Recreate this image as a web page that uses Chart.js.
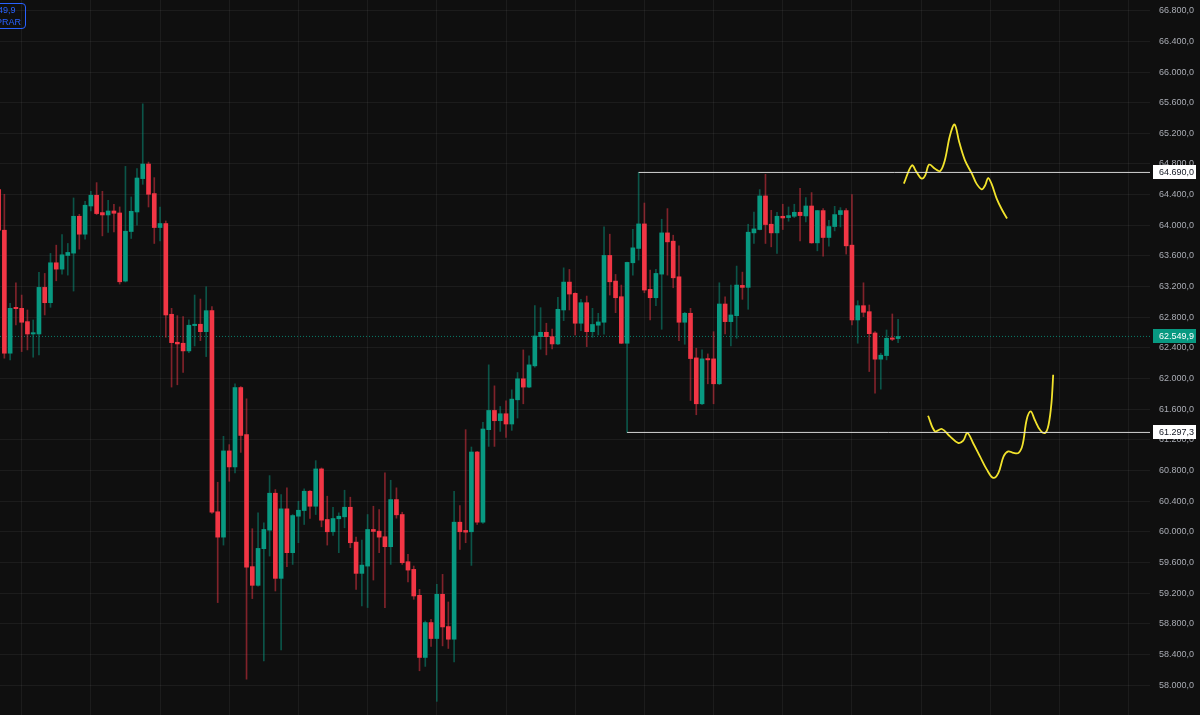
<!DOCTYPE html>
<html>
<head>
<meta charset="utf-8">
<script src="https://cdn.jsdelivr.net/npm/chart.js@4"></script>
<style>
  body { margin: 0; background: #0f0f0f; overflow: hidden; }
  #wrap { position: relative; width: 1200px; height: 715px; }
  #buy {
    position: absolute; left: -30px; top: 3px; width: 54px; height: 24px;
    border: 1px solid #2962ff; border-radius: 4px; color: #2962ff;
    font: 9px "Liberation Sans", sans-serif; text-align: center; line-height: 12px;
  }
</style>
</head>
<body>
<div id="wrap">
  <canvas id="chart" width="1200" height="715"></canvas>
  <div id="buy">62.549,9<br>COMPRAR</div>
</div>
<script>
// candles (one per bar, left to right)
const opens = [64466,63936,62331,62930,62917,62743,62582,62582,63190,62990,63511,63428,63606,63637,64118,63884,64252,64392,64166,64135,
  64187,64161,63272,63919,64174,64609,64799,64414,63971,64023,62839,62474,62461,62361,62691,62709,62612,62886,60262,59931,
  61056,60847,61883,61268,59546,59302,59780,60022,60504,59393,60300,59728,60204,60278,60530,60334,60821,60161,60001,60170,
  60196,60321,59866,59458,59553,60031,60009,59936,59806,60421,60226,59610,59510,59172,58361,58816,58608,59185,58764,58599,
  60126,60018,60001,61042,60126,61333,61584,61450,61541,61407,61723,61997,61889,62166,62547,62604,62547,62452,62895,63259,
  63112,62722,62990,62612,62696,62735,63607,63272,63068,62461,63511,63698,64018,63164,63055,63363,63901,63793,63328,62735,
  62852,62270,61671,62261,62257,61932,62973,62743,62821,63216,63190,63901,63945,64383,64014,63901,64118,64101,64118,64170,
  64122,64252,63771,64192,63841,63984,64140,64192,63741,62765,62951,62873,62595,62253,62300,62530,62522];
const highs = [64522,64405,62982,63250,63090,62895,62765,63385,63372,63633,63741,63880,63763,64357,64144,64314,64444,64557,64444,64327,
  64275,64240,64769,64370,64739,65585,64825,64622,64239,64057,62917,62821,62808,62765,63090,63038,63198,62938,60647,61246,
  61138,61932,61896,61736,60041,60248,60118,60734,60552,60487,60574,60226,60399,60561,60540,60929,60834,60465,60321,60248,
  60543,60452,59931,59892,60226,60334,60291,60769,60673,60574,60256,59706,59554,59250,58837,58859,59315,59445,59085,60530,
  60343,61333,61107,61050,61428,62179,61905,61636,61710,61853,62079,62374,62296,62951,62925,62722,62647,63060,63445,63424,
  63120,63034,63077,62917,62852,63979,63884,63359,63220,63520,63949,64690,64291,63415,63424,64079,64218,63871,63732,62865,
  62917,62396,62374,62322,62612,63250,63068,63220,63468,63389,64014,64174,64466,64665,64196,64170,64275,64239,64275,64483,
  64362,64427,64195,64218,64066,64248,64231,64218,64401,63016,63250,62960,62612,62331,62634,62843,62774];
const lows = [63910,62266,62244,62700,62352,62374,62279,62309,62830,62930,63276,63363,63350,63142,63689,63819,64187,64140,63862,63906,
  63914,63233,63260,63828,64001,64535,64239,63763,63797,62539,61889,61919,62079,62339,62426,62495,62287,60239,59077,59827,
  60660,60769,61037,58078,59129,59290,58317,59684,59228,58460,59545,59575,59858,60096,60174,60226,60066,59827,59953,59728,
  60053,59793,59250,59033,59012,59371,59728,59012,59575,60178,59575,59345,59120,58187,58244,58504,57788,58512,58478,58304,
  59771,59858,59562,60096,60110,61115,61115,61311,61233,61324,61485,61671,61880,62149,62383,62309,62387,62443,62756,62895,
  62569,62626,62417,62539,62569,62578,63090,62860,62455,61297.3,63350,63546,63120,62765,62951,62643,63350,63185,62495,62448,
  61714,61528,61658,61932,61671,61920,62582,62426,62526,63034,62904,63763,63940,63763,63719,63633,63945,64053,64101,63797,
  64044,63765,63667,63598,63728,63927,63979,63624,62700,62461,62808,62092,61810,61862,62244,62495,62470];
const closes = [63936,62331,62917,62912,62735,62582,62599,63190,62990,63511,63428,63615,63646,64118,63884,64262,64392,64153,64135,64187,
  64157,63263,63923,64183,64617,64799,64405,63971,64023,62830,62469,62452,62361,62696,62709,62612,62886,60256,59931,61056,
  60847,61883,61258,59540,59302,59784,60031,60504,59393,60300,59728,60213,60282,60530,60334,60821,60152,60001,60174,60204,
  60321,59858,59458,59566,60031,60005,59931,59806,60421,60222,59597,59501,59163,58361,58816,58608,59185,58759,58599,60126,
  60001,59996,61042,60126,61342,61584,61450,61541,61407,61732,61997,61889,62179,62556,62604,62547,62452,62904,63259,63103,
  62722,62990,62612,62706,62739,63607,63263,63055,62461,63516,63706,64018,63155,63055,63372,63901,63784,63315,62735,62852,
  62261,61671,62257,62244,61932,62973,62743,62830,63220,63190,63910,63953,64383,64010,63901,64118,64096,64127,64170,64127,
  64252,63771,64192,63841,63984,64140,64192,63732,62765,62951,62865,62586,62253,62305,62526,62513,62549.9];

// price scale labels: 58.000,0 .. 66.800,0 every 400
const priceTicks = [58000,58400,58800,59200,59600,60000,60400,60800,61200,61600,62000,62400,
  62800,63200,63600,64000,64400,64800,65200,65600,66000,66400,66800];
// vertical grid lines sit on these bars
const gridBars = [4,16,28,40,52,64,76,88,100,112,124,136,148,160,172,184,196];

// horizontal rays from the swing high / low, and the last price
const rayHigh = 64690;
const rayHighFrom = 111;
const rayLow = 61297.3;
const rayLowFrom = 109;
const lastPrice = 62549.9;

// hand-drawn yellow scenarios (x in bars, y in price)
const upperPathX = [157.0,158.4,159.2,160.1,160.7,161.4,162.4,163.3,164.1,165.0,165.8,166.6,167.6,168.8,169.6,170.5,171.1,171.6,172.2,173.1,174.0,174.9];
const upperPathY = [64544,64782,64695,64609,64652,64792,64739,64708,64847,65173,65316,65086,64847,64674,64544,64470,64522,64617,64544,64349,64206,64089];
const lowerPathX = [161.2,162.4,163.6,165.0,166.4,167.3,168.0,169.0,170.2,171.4,172.5,173.4,174.3,175.1,176.0,176.9,177.6,178.3,179.0,179.7,180.6,181.5,182.1,182.6,182.9];
const lowerPathY = [61515,61311,61342,61246,61160,61190,61290,61160,60985,60812,60704,60769,60985,61050,61030,61030,61138,61463,61571,61463,61333,61290,61398,61680,62049];

const GREEN = "#089981";
const RED = "#f23645";
const GREEN_WICK = "rgba(8, 153, 129, 0.5)";
const RED_WICK = "rgba(242, 54, 69, 0.5)";
const GRID = "rgba(255, 255, 255, 0.055)";
const X_MIN = 0.243;
const X_MAX = 199.69;

function fmt(v) {
  const parts = v.toFixed(1).split(".");
  return parts[0].replace(/\B(?=(\d{3})+(?!\d))/g, ".") + "," + parts[1];
}

const isUp = closes.map((c, i) => c >= opens[i]);
const toPoints = (xs, ys) => xs.map((x, i) => ({ x: x, y: ys[i] }));

const bodies = opens.map((o, i) => ({ x: i, y: [o, closes[i]] }));
const wicks = lows.map((l, i) => ({ x: i, y: [l, highs[i]] }));

// axis boxes for the levels
const levelValues = [rayHigh, lastPrice, rayLow];
const levelFill = ["#ffffff", GREEN, "#ffffff"];
const levelText = ["#131722", "#ffffff", "#131722"];

const priceLabels = {
  id: "priceLabels",
  afterDraw(chart) {
    const ctx = chart.ctx;
    const yScale = chart.scales.y;
    const left = chart.chartArea.right + 3;
    ctx.save();
    ctx.font = "9px 'Liberation Sans', sans-serif";
    ctx.textBaseline = "middle";
    levelValues.forEach((v, i) => {
      const y = Math.round(yScale.getPixelForValue(v));
      ctx.fillStyle = levelFill[i];
      ctx.fillRect(left, y - 7, 43, 14);
      ctx.fillStyle = levelText[i];
      ctx.fillText(fmt(v), left + 6, y + 0.5);
    });
    ctx.restore();
  },
};

const ctx = document.getElementById("chart").getContext("2d");
const chart = new Chart(ctx, {
  type: "bar",
  data: {
    datasets: [
      {
        type: "line",
        data: toPoints([rayHighFrom, X_MAX], [rayHigh, rayHigh]),
        borderColor: "rgba(235, 235, 235, 0.9)",
        borderWidth: 1,
        pointRadius: 0,
        order: 0,
      },
      {
        type: "line",
        data: toPoints([rayLowFrom, X_MAX], [rayLow, rayLow]),
        borderColor: "rgba(235, 235, 235, 0.9)",
        borderWidth: 1,
        pointRadius: 0,
        order: 0,
      },
      {
        type: "line",
        data: toPoints(upperPathX, upperPathY),
        borderColor: "#f2e32c",
        borderWidth: 1.8,
        pointRadius: 0,
        tension: 0.35,
        order: 0,
      },
      {
        type: "line",
        data: toPoints(lowerPathX, lowerPathY),
        borderColor: "#f2e32c",
        borderWidth: 1.8,
        pointRadius: 0,
        tension: 0.35,
        order: 0,
      },
      {
        data: bodies,
        backgroundColor: isUp.map((u) => (u ? GREEN : RED)),
        barThickness: 4,
        minBarLength: 1,
        grouped: false,
        order: 1,
      },
      {
        data: wicks,
        backgroundColor: isUp.map((u) => (u ? GREEN_WICK : RED_WICK)),
        barThickness: 1,
        grouped: false,
        order: 2,
      },
      {
        type: "line",
        data: toPoints([X_MIN, X_MAX], [lastPrice, lastPrice]),
        borderColor: "rgba(8, 153, 129, 0.8)",
        borderWidth: 1,
        borderDash: [1, 2],
        pointRadius: 0,
        order: 3,
      },
    ],
  },
  options: {
    responsive: false,
    animation: false,
    devicePixelRatio: 1,
    layout: { padding: 0 },
    plugins: { legend: { display: false }, tooltip: { enabled: false } },
    scales: {
      x: {
        type: "linear",
        min: X_MIN,
        max: X_MAX,
        offset: false,
        grid: { color: GRID, offset: false, drawTicks: false },
        border: { display: false },
        ticks: { display: false },
        afterBuildTicks(scale) {
          scale.ticks = gridBars.map((v) => ({ value: v }));
        },
        afterFit(scale) {
          scale.height = 0;
          scale.paddingLeft = 0;
          scale.paddingRight = 0;
        },
      },
      y: {
        type: "linear",
        position: "right",
        min: 57610,
        max: 66940,
        beginAtZero: false,
        grid: { color: GRID, drawTicks: false },
        border: { display: false },
        ticks: {
          padding: 9,
          color: "#a9acb4",
          font: { family: "'Liberation Sans', sans-serif", size: 9 },
          callback: (v) => fmt(v),
        },
        afterBuildTicks(scale) {
          scale.ticks = priceTicks.map((v) => ({ value: v }));
        },
        afterFit(scale) {
          scale.width = 50;
          scale.paddingTop = 0;
          scale.paddingBottom = 0;
        },
      },
    },
  },
  plugins: [priceLabels],
});
</script>
</body>
</html>
